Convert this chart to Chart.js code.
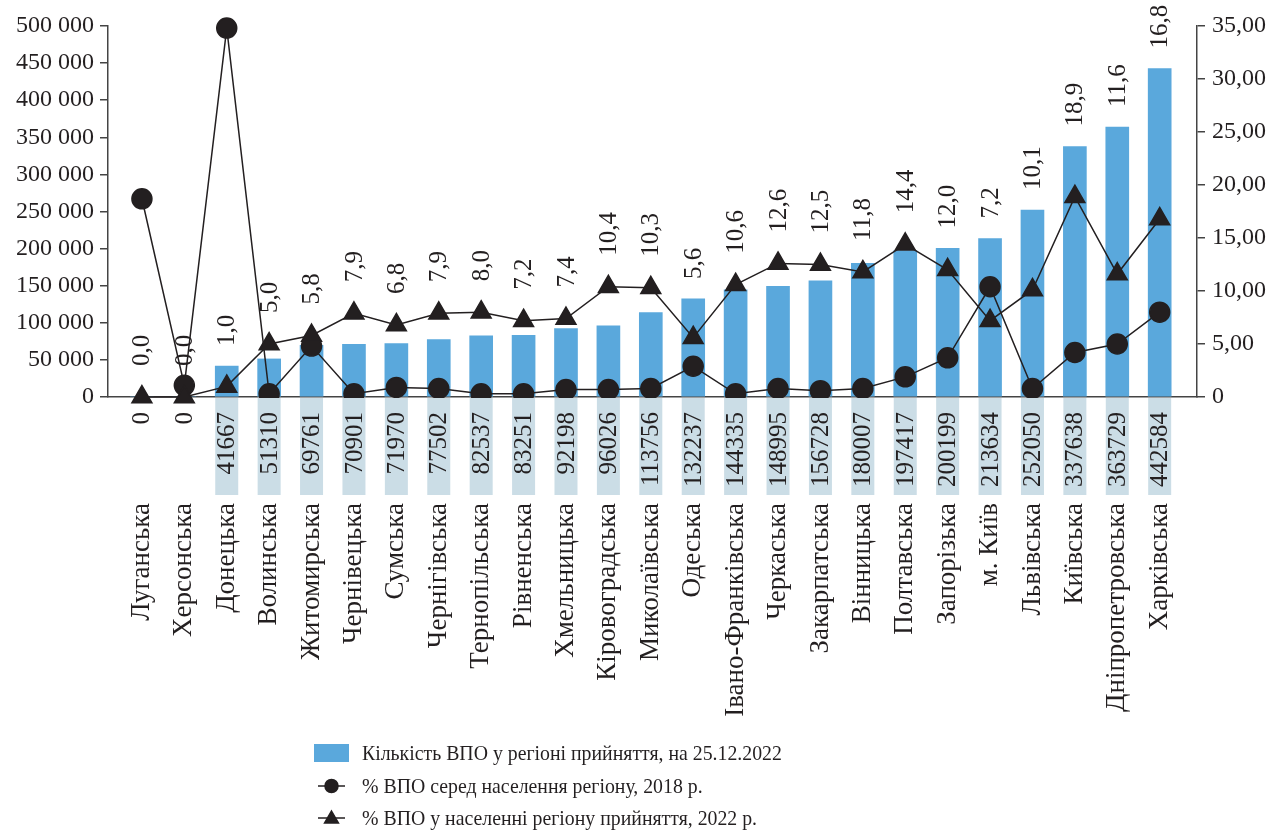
<!DOCTYPE html>
<html>
<head>
<meta charset="utf-8">
<script src="https://cdn.jsdelivr.net/npm/chart.js@4.4.1/dist/chart.umd.min.js"></script>
<style>
  html, body { margin: 0; padding: 0; background: #fff; }
  #wrap { width: 1274px; height: 833px; }
</style>
</head>
<body>
<div id="wrap"><canvas id="chart" width="1274" height="833"></canvas></div>
<script>
// regions (x axis)
const regions = ['Луганська', 'Херсонська', 'Донецька', 'Волинська', 'Житомирська', 'Чернівецька',
  'Сумська', 'Чернігівська', 'Тернопільська', 'Рівненська', 'Хмельницька', 'Кіровоградська',
  'Миколаївська', 'Одеська', 'Івано-Франківська', 'Черкаська', 'Закарпатська', 'Вінницька',
  'Полтавська', 'Запорізька', 'м. Київ', 'Львівська', 'Київська', 'Дніпропетровська', 'Харківська'];

// number of IDPs in the host region, 25.12.2022
const idpCount = [0, 0, 41667, 51310, 69761, 70901, 71970, 77502, 82537, 83251, 92198, 96026,
  113756, 132237, 144335, 148995, 156728, 180007, 197417, 200199, 213634, 252050, 337638, 363729, 442584];

// % IDPs among region population, 2018
const pct2018 = [18.7, 1.1, 34.8, 0.3, 4.8, 0.3, 0.9, 0.8, 0.3, 0.3, 0.7, 0.7,
  0.8, 2.9, 0.3, 0.8, 0.6, 0.8, 1.9, 3.7, 10.4, 0.8, 4.2, 5.0, 8.0];

// % IDPs in host region population, 2022
const pct2022 = [0.0, 0.0, 1.0, 5.0, 5.8, 7.9, 6.8, 7.9, 8.0, 7.2, 7.4, 10.4,
  10.3, 5.6, 10.6, 12.6, 12.5, 11.8, 14.4, 12.0, 7.2, 10.1, 18.9, 11.6, 16.8];

const legendLabels = ['Кількість ВПО у регіоні прийняття, на 25.12.2022',
  '% ВПО серед населення регіону, 2018 р.',
  '% ВПО у населенні регіону прийняття, 2022 р.'];

const INK = '#231f20';
const BAR = '#5aa8dc';
const BOX = '#cbdde6';
const FONT = '"Liberation Serif", "Times New Roman", serif';

Chart.defaults.font.family = FONT;
Chart.defaults.font.size = 24;
Chart.defaults.color = INK;

const fmtSpace = v => String(v).replace(/\B(?=(\d{3})+(?!\d))/g, ' ');
const fmtComma = (v, d) => v.toFixed(d).replace('.', ',');

// value labels above each column and the count boxes under the axis
const labelsPlugin = {
  id: 'labels',
  afterDatasetsDraw(chart) {
    const ctx = chart.ctx;
    const xs = chart.scales.x, yl = chart.scales.y, yr = chart.scales.y1;
    const base = chart.chartArea.bottom;
    ctx.save();
    ctx.font = '25px ' + FONT;
    ctx.fillStyle = INK;
    regions.forEach((r, i) => {
      const x = xs.getPixelForValue(i);
      // top labels (2022 %)
      const top = Math.min(yl.getPixelForValue(idpCount[i]), yr.getPixelForValue(pct2022[i]) - 11) - 20;
      ctx.save();
      ctx.translate(x, top);
      ctx.rotate(-Math.PI / 2);
      ctx.textAlign = 'left';
      ctx.textBaseline = 'middle';
      ctx.fillText(fmtComma(pct2022[i], 1), 0, 1);
      ctx.restore();
      // boxes with counts
      if (idpCount[i] > 0) {
        ctx.fillStyle = BOX;
        ctx.fillRect(x - 11.5, base + 1, 23, 97);
        ctx.fillStyle = INK;
      }
      ctx.save();
      ctx.translate(x, base + 15);
      ctx.rotate(-Math.PI / 2);
      ctx.textAlign = 'right';
      ctx.textBaseline = 'middle';
      ctx.fillText(String(idpCount[i]), 0, 1);
      ctx.restore();
    });
    ctx.restore();
  }
};

// vertical legend under the chart
const legendPlugin = {
  id: 'vlegend',
  afterDraw(chart) {
    const ctx = chart.ctx;
    const rows = [753, 786, 818];
    const x0 = 314, x1 = 349;
    ctx.save();
    ctx.font = '22px ' + FONT;
    ctx.textBaseline = 'middle';
    ctx.textAlign = 'left';
    chart.data.datasets.forEach((ds, i) => {
      const y = rows[i];
      ctx.fillStyle = INK;
      ctx.strokeStyle = INK;
      if (ds.type === 'bar') {
        ctx.fillStyle = ds.backgroundColor;
        ctx.fillRect(x0, y - 9, x1 - x0, 18);
      } else {
        ctx.lineWidth = 1.5;
        ctx.beginPath();
        ctx.moveTo(x0 + 4, y);
        ctx.lineTo(x1 - 4, y);
        ctx.stroke();
        Chart.helpers.drawPoint(ctx, { pointStyle: ds.pointStyle, radius: ds.pointStyle === 'triangle' ? 8 : 6.5, borderWidth: 1 }, (x0 + x1) / 2, y + (ds.pointStyle === 'triangle' ? 1 : 0));
      }
      ctx.fillStyle = INK;
      ctx.save();
      ctx.translate(362, y + 1);
      ctx.scale(0.9, 1);
      ctx.fillText(ds.label, 0, 0);
      ctx.restore();
    });
    ctx.restore();
  }
};

new Chart(document.getElementById('chart'), {
  type: 'bar',
  data: {
    datasets: [{
      type: 'bar',
      label: legendLabels[0],
      data: idpCount.map((v, i) => ({ x: i, y: v })),
      backgroundColor: BAR,
      barThickness: 23,
      yAxisID: 'y',
      order: 3
    }, {
      type: 'line',
      label: legendLabels[1],
      data: pct2018.map((v, i) => ({ x: i, y: v })),
      borderColor: INK,
      borderWidth: 1.5,
      pointStyle: 'circle',
      pointRadius: 10,
      pointBackgroundColor: INK,
      pointBorderColor: INK,
      yAxisID: 'y1',
      clip: false,
      order: 2
    }, {
      type: 'line',
      label: legendLabels[2],
      data: pct2022.map((v, i) => ({ x: i, y: v })),
      borderColor: INK,
      borderWidth: 1.5,
      pointStyle: 'triangle',
      pointRadius: 11.5,
      pointBackgroundColor: INK,
      pointBorderColor: INK,
      yAxisID: 'y1',
      clip: false,
      order: 1
    }]
  },
  options: {
    responsive: false,
    animation: false,
    layout: { padding: { top: 26, bottom: 100, left: 0, right: 0 } },
    plugins: {
      legend: { display: false },
      tooltip: { enabled: false }
    },
    scales: {
      x: {
        type: 'linear',
        min: -0.8,
        max: 24.88,
        offset: false,
        grid: { display: false, drawTicks: false },
        border: { display: true, color: '#444', width: 1.5 },
        afterBuildTicks: s => { s.ticks = regions.map((r, i) => ({ value: i })); },
        afterFit: s => { s.height = 336; s.paddingLeft = 0; s.paddingRight = 0; },
        ticks: {
          autoSkip: false,
          minRotation: 90,
          maxRotation: 90,
          padding: 106,
          font: { size: 27 },
          callback: v => regions[v]
        }
      },
      y: {
        position: 'left',
        min: 0,
        max: 500000,
        afterFit: s => { s.width = 108; },
        grid: { drawOnChartArea: false, tickLength: 8, color: '#444', lineWidth: 1.5 },
        border: { display: true, color: '#444', width: 1.5 },
        ticks: { stepSize: 50000, padding: 6, callback: v => fmtSpace(v) }
      },
      y1: {
        position: 'right',
        min: 0,
        max: 35,
        afterFit: s => { s.width = 77; },
        grid: { drawOnChartArea: false, tickLength: 8, color: '#444', lineWidth: 1.5 },
        border: { display: true, color: '#444', width: 1.5 },
        ticks: { stepSize: 5, padding: 7, callback: v => v === 0 ? '0' : fmtComma(v, 2) }
      }
    }
  },
  plugins: [labelsPlugin, legendPlugin]
});
</script>
</body>
</html>
